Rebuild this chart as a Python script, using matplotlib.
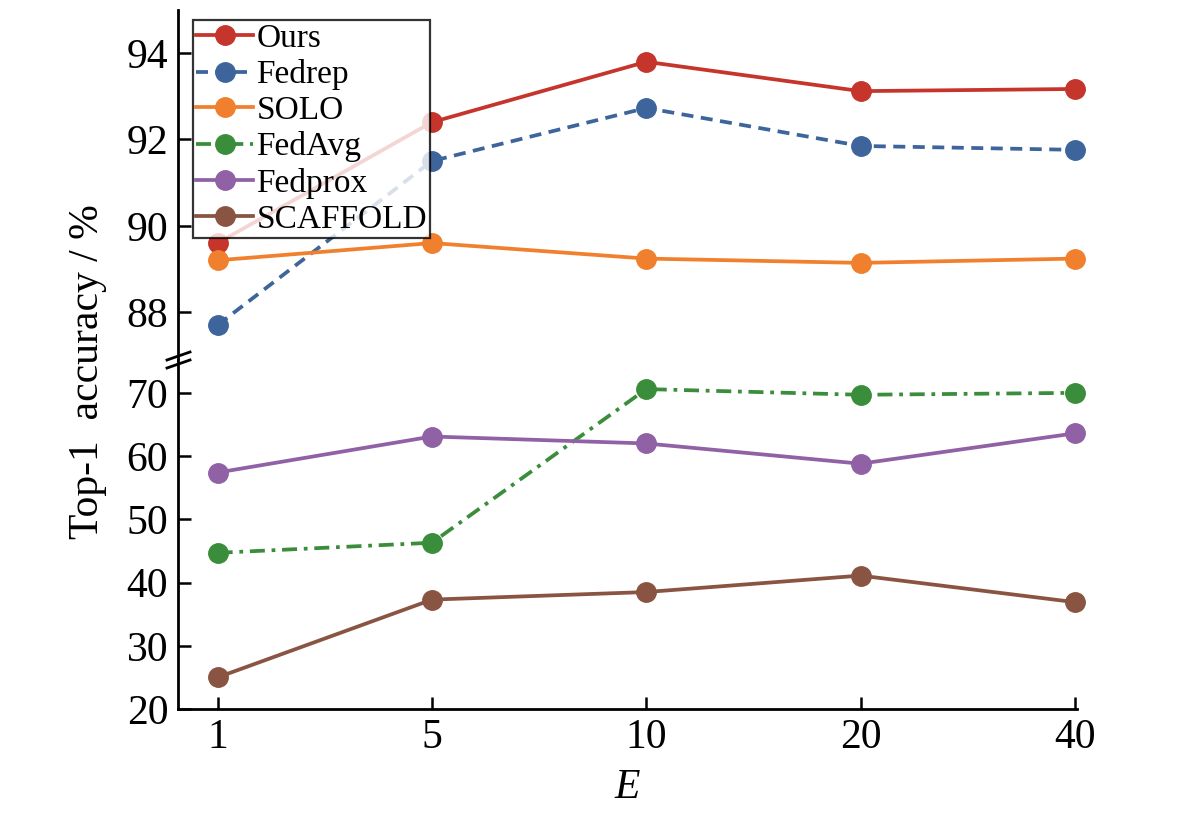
#!/usr/bin/env python3
"""Top-1 accuracy vs local epochs E, broken y-axis."""

import matplotlib

matplotlib.use("Agg")
import matplotlib.pyplot as plt
from matplotlib.lines import Line2D

plt.rcParams["font.family"] = ["Liberation Serif", "DejaVu Serif"]

E_LABELS = ["1", "5", "10", "20", "40"]

OURS = [89.6, 92.4, 93.8, 93.12, 93.17]
FEDREP = [87.7, 91.5, 92.73, 91.85, 91.76]
SOLO = [89.2, 89.6, 89.24, 89.14, 89.24]
FEDAVG = [44.7, 46.3, 70.6, 69.7, 70.0]
FEDPROX = [57.4, 63.1, 62.0, 58.8, 63.6]
SCAFFOLD = [25.0, 37.3, 38.5, 41.1, 36.9]

TOP_SERIES = [
    ("Ours", OURS, "#c5352c", "-"),
    ("Fedrep", FEDREP, "#3e659b", (0, (3.2, 2.0))),
    ("SOLO", SOLO, "#f0802e", "-"),
]
BOTTOM_SERIES = [
    ("FedAvg", FEDAVG, "#3a8d3a", (0, (4.0, 1.8, 1.0, 1.8))),
    ("Fedprox", FEDPROX, "#9161a6", "-"),
    ("SCAFFOLD", SCAFFOLD, "#8a5443", "-"),
]

W, H = 1200, 824
fig = plt.figure(figsize=(W / 100, H / 100), dpi=100)

left = 178 / W
width = (1077 - 178) / W
y_top, y_break, y_bot = 10, 360, 709
ax_top = fig.add_axes([left, 1 - y_break / H, width, (y_break - y_top) / H])
ax_bot = fig.add_axes([left, 1 - y_bot / H, width, (y_bot - y_break) / H])

x = list(range(len(E_LABELS)))
line_kw = dict(linewidth=2.7, marker="o", markersize=14, clip_on=False)

for name, vals, color, ls in TOP_SERIES:
    ax_top.plot(x, vals, color=color, linestyle=ls, label=name, **line_kw)
for name, vals, color, ls in BOTTOM_SERIES:
    ax_bot.plot(x, vals, color=color, linestyle=ls, label=name, **line_kw)

for ax in (ax_top, ax_bot):
    ax.set_xlim(-0.185, 4.01)
    ax.spines[["top", "right"]].set_visible(False)
    for sp in ax.spines.values():
        sp.set_linewidth(2.0)
    ax.tick_params(direction="in", length=9, width=1.8, labelsize=30, pad=7)

ax_top.set_ylim(86.89, 95.0)
ax_top.set_yticks([88, 90, 92, 94])
ax_top.spines["bottom"].set_visible(False)
ax_top.set_xticks([])

ax_bot.set_ylim(20, 75.2)
ax_bot.set_yticks([20, 30, 40, 50, 60, 70])
ax_bot.set_xticks(x)
ax_bot.set_xticklabels(E_LABELS)
ax_bot.set_xlabel("E", fontsize=30, style="italic", labelpad=8)

fig.text(88 / W, 1 - 372 / H, "Top-1  accuracy / %", rotation=90,
         ha="center", va="center", fontsize=30)

# break marks on the y axis
for yc in (356, 364):
    fig.add_artist(Line2D([167 / W, 190 / W], [1 - (yc + 4) / H, 1 - (yc - 4) / H],
                          color="black", linewidth=2.0))

handles = []
labels = []
for name, _, color, ls in TOP_SERIES + BOTTOM_SERIES:
    handles.append(Line2D([], [], color=color, linestyle=ls, linewidth=2.7,
                          marker="o", markersize=14))
    labels.append(name)
leg = ax_top.legend(handles, labels, loc="upper left",
                    bbox_to_anchor=(193 / W, 1 - 20 / H), bbox_transform=fig.transFigure,
                    fontsize=24, frameon=True, fancybox=False, framealpha=0.8,
                    edgecolor="black", borderpad=0.1, labelspacing=0.16,
                    handlelength=1.7, handletextpad=0.1, borderaxespad=0)
leg.get_frame().set_linewidth(1.6)
leg.set_zorder(10)

fig.savefig("out.png", dpi=100)
